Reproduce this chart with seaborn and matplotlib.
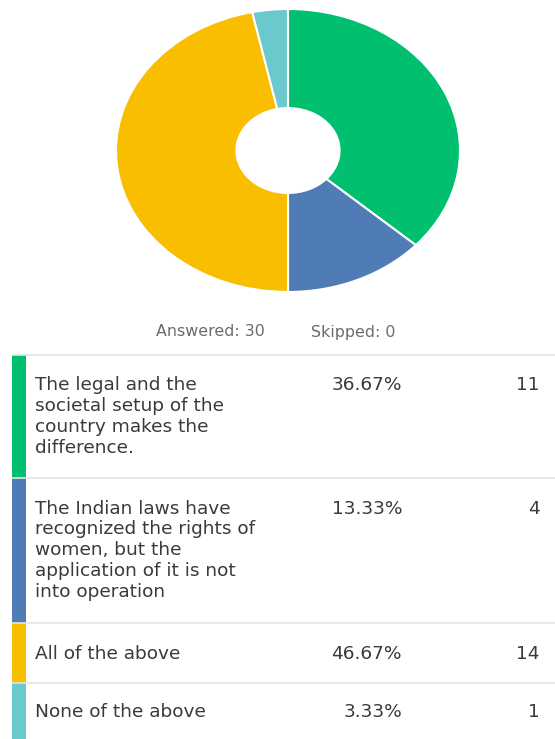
import matplotlib
matplotlib.use("Agg")
import matplotlib.pyplot as plt
import seaborn as sns

# ---- data ----
answers = [
    "The legal and the\nsocietal setup of the\ncountry makes the\ndifference.",
    "The Indian laws have\nrecognized the rights of\nwomen, but the\napplication of it is not\ninto operation",
    "All of the above",
    "None of the above",
]
counts = [11, 4, 14, 1]
percents = ["36.67%", "13.33%", "46.67%", "3.33%"]
answered = 30
skipped = 0
colors = ["#00BF6F", "#507CB6", "#F9BE00", "#6BC8CD"]

sns.set_theme(style="white")
plt.rcParams["font.family"] = ["DejaVu Sans"]

W, H = 555, 739
fig = plt.figure(figsize=(W / 100, H / 100), dpi=100)
fig.patch.set_facecolor("white")

# ---- donut (elliptical) ----
pl, pr, pt, pb = 116, 460, 9, 292
axp = fig.add_axes([pl / W, 1 - pb / H, (pr - pl) / W, (pb - pt) / H])
axp.pie(counts, colors=colors, startangle=90, counterclock=False,
        radius=1.0,
        wedgeprops=dict(width=0.7, edgecolor="white", linewidth=1.5))
axp.set_aspect("auto")
axp.set_xlim(-1.0, 1.0)
axp.set_ylim(-1.0, 1.0)
axp.axis("off")

# ---- table ----
ax = fig.add_axes([0, 0, 1, 1])
ax.set_xlim(0, W)
ax.set_ylim(H, 0)
ax.axis("off")

ax.text(210, 332, f"Answered: {answered}", ha="center", va="center",
        fontsize=11.4, color="#6b6b6b")
ax.text(353, 332, f"Skipped: {skipped}", ha="center", va="center",
        fontsize=11.4, color="#6b6b6b")

row_edges = [355, 478, 623, 683, 739]
text_color = "#3a3a3a"
fs = 13.3
for i, (lab, pct, cnt, col) in enumerate(zip(answers, percents, counts, colors)):
    top = row_edges[i]
    bot = row_edges[i + 1]
    ax.bar(19, bot - top, width=14, bottom=top, color=col, linewidth=0)
    ax.plot([12, W], [top, top], color="#e4e4e4", lw=1.2, solid_capstyle="butt")
    if i >= 2:
        ty = (top + bot) / 2 + 1
        va = "center"
    else:
        ty = top + 21.5
        va = "top"
    ax.text(35, ty, lab, ha="left", va=va, fontsize=fs, color=text_color,
            linespacing=1.21)
    ax.text(402, ty, pct, ha="right", va=va, fontsize=fs, color=text_color)
    ax.text(540, ty, str(cnt), ha="right", va=va, fontsize=fs, color=text_color)

fig.savefig("out.png", dpi=100, facecolor="white")
